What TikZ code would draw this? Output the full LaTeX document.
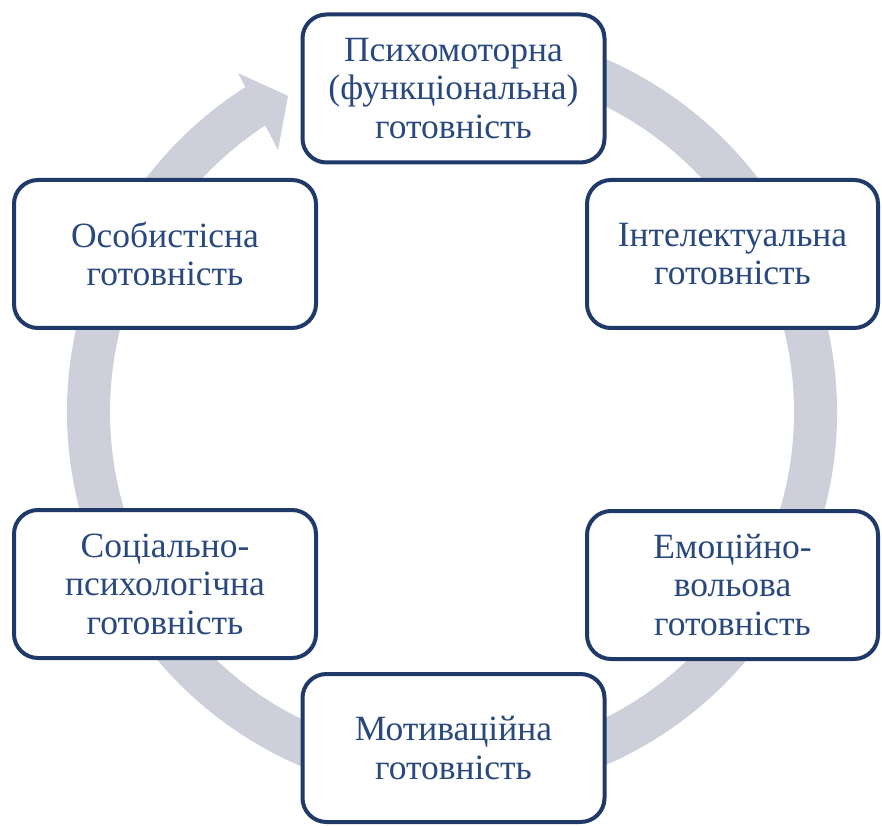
\documentclass[tikz,border=0pt]{standalone}
\usepackage{fontspec}
\setmainfont{Liberation Serif}
\usetikzlibrary{positioning}
\definecolor{boxblue}{RGB}{31,58,104}
\definecolor{textblue}{RGB}{40,72,126}
\definecolor{ringgray}{RGB}{205,208,218}

\begin{document}
\begin{tikzpicture}[x=1pt, y=1pt,
  stage/.style={draw=boxblue, line width=4pt, fill=white, rounded corners=24pt,
    text=textblue, align=center, font=\fontsize{35.5}{38.5}\selectfont,
    minimum width=302pt, minimum height=148pt, inner sep=0pt},
  ring/.style={draw=ringgray, line width=43pt}]
\useasboundingbox (0,0) rectangle (882,825);
% Kolo
\coordinate (c) at (452,413);
\draw[ring] ([shift={(100:363.5pt)}]c) arc[start angle=100, end angle=-238, radius=363.5pt];
\fill[ringgray] (238,752) -- (288,729) -- (278,675) -- cycle;

% Etapy
\node[stage] (psy) at (453.5,736.5) {Психомоторна\\(функціональна)\\готовність};
\node[stage, minimum width=291pt] (intel) at (732.5,571) {Інтелектуальна\\готовність};
\node[stage, minimum width=291pt] (emo) at (732.5,240) {Емоційно-\\вольова\\готовність};
\node[stage] (motiv) at (453.5,77) {Мотиваційна\\готовність};
\node[stage] (soc) at (165,241) {Соціально-\\психологічна\\готовність};
\node[stage] (osob) at (165,571) {Особистісна\\готовність};
\end{tikzpicture}
\end{document}
